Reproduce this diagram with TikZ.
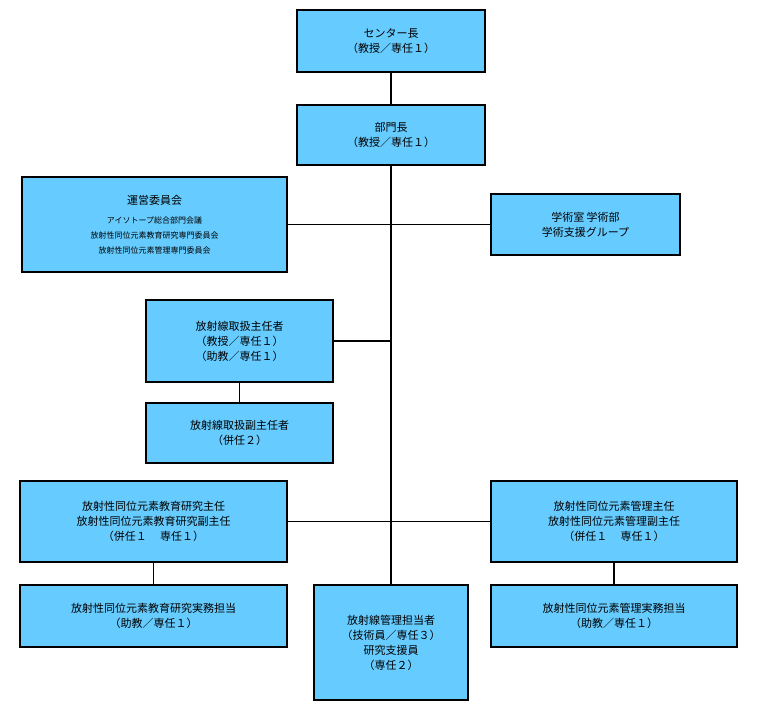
\documentclass[tikz,border=0pt]{standalone}
\usepackage{fontspec}
\setmainfont{Noto Sans CJK JP}
\tikzset{
  box/.style={draw=black, line width=1.5pt, fill=boxblue, align=center,
    inner sep=0pt, font=\fontsize{11}{15}\selectfont},
  link/.style={line width=1.5pt, black}
}
\definecolor{boxblue}{HTML}{66CCFF}
\newcommand{\smalltxt}{\fontsize{8}{11}\selectfont}
\begin{document}
\begin{tikzpicture}[x=1pt, y=-1pt]
  \useasboundingbox (0,0) rectangle (765,716);
  % boxes
  \node[box, minimum width=188pt, minimum height=62pt] (head) at (391,41) {センター長\\（教授／専任１）};
  \node[box, minimum width=188pt, minimum height=60pt] (dept) at (391,135) {部門長\\（教授／専任１）};
  \node[box, minimum width=265pt, minimum height=95pt] (comm) at (154.5,224.5)
    {運営委員会\\[4pt]\smalltxt アイソトープ総合部門会議\\\smalltxt 放射性同位元素教育研究専門委員会\\\smalltxt 放射性同位元素管理専門委員会};
  \node[box, minimum width=189pt, minimum height=61pt] (acad) at (585.5,224.5) {学術室 学術部\\学術支援グループ};
  \node[box, minimum width=187pt, minimum height=82pt] (chief) at (239.5,341) {放射線取扱主任者\\（教授／専任１）\\（助教／専任１）};
  \node[box, minimum width=187pt, minimum height=60pt] (subchief) at (239.5,433) {放射線取扱副主任者\\（併任２）};
  \node[box, minimum width=267pt, minimum height=81pt] (edu) at (153.5,521.5) {放射性同位元素教育研究主任\\放射性同位元素教育研究副主任\\（併任１　 専任１）};
  \node[box, minimum width=246pt, minimum height=81pt] (mgmt) at (614,521.5) {放射性同位元素管理主任\\放射性同位元素管理副主任\\（併任１　 専任１）};
  \node[box, minimum width=267pt, minimum height=62pt] (eduwork) at (153.5,616) {放射性同位元素教育研究実務担当\\（助教／専任１）};
  \node[box, minimum width=154pt, minimum height=115pt] (staff) at (391,642.5) {放射線管理担当者\\（技術員／専任３）\\研究支援員\\（専任２）};
  \node[box, minimum width=246pt, minimum height=62pt] (mgmtwork) at (614,616) {放射性同位元素管理実務担当\\（助教／専任１）};
  % connectors
  \coordinate (j2) at (391,341);
  \draw[link] (head) -- (dept);
  \draw[link] (dept) -- (staff);
  \draw[link] (comm) -- (acad);
  \draw[link] (chief) -- (j2);
  \draw[link] (chief) -- (subchief);
  \draw[link] (edu) -- (mgmt);
  \draw[link] (edu) -- (eduwork);
  \draw[link] (mgmt) -- (mgmtwork);
\end{tikzpicture}
\end{document}
